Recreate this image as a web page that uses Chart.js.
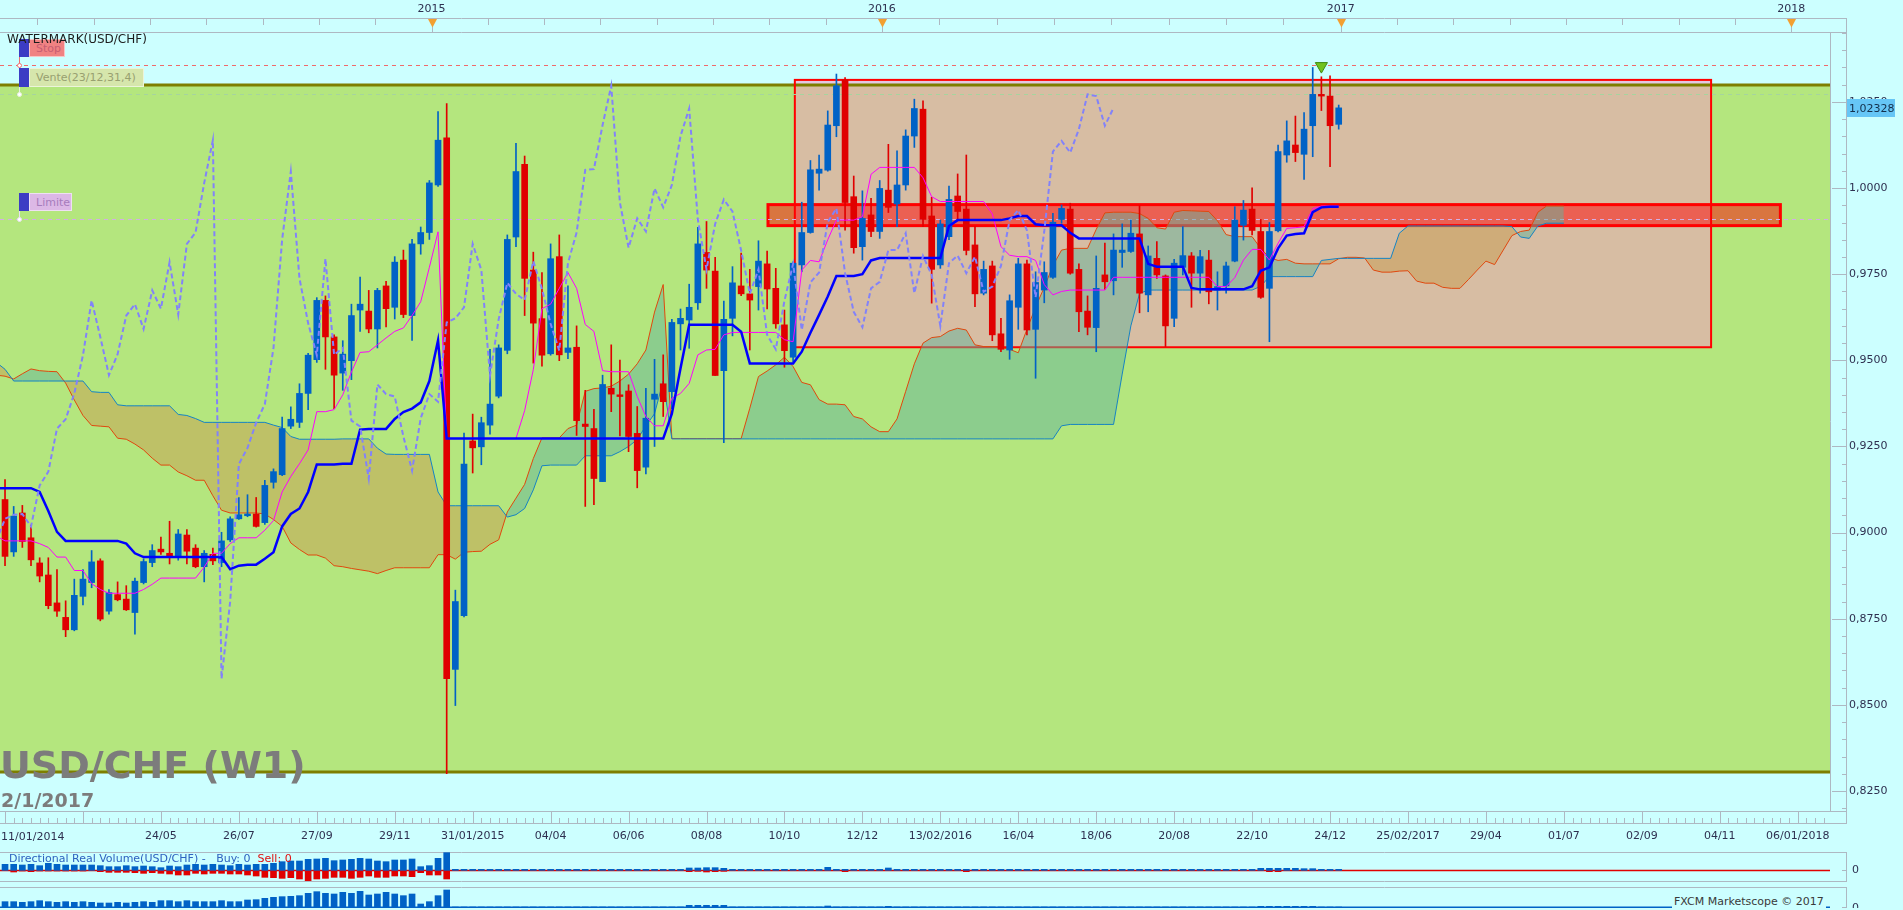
<!DOCTYPE html>
<html lang="fr">
<head>
<meta charset="utf-8">
<title>USD/CHF (W1)</title>
<script src="https://cdn.jsdelivr.net/npm/chart.js@4.4.1/dist/chart.umd.min.js"></script>
<style>
  html, body { margin: 0; padding: 0; background: #ccffff; overflow: hidden; }
  #page { position: relative; width: 1903px; height: 910px; font-family: 'DejaVu Sans', sans-serif; }
  canvas { position: absolute; left: 0; }
  .t { position: absolute; white-space: pre; font-size: 11px; line-height: 13px; }
  .sq { position: absolute; width: 10px; background: #3c3cc4; }
  .tag { position: absolute; padding-left: 6px; font-size: 11px; line-height: 18px; box-sizing: border-box; border: 1px solid rgba(255,255,255,.55); }
  .stem { position: absolute; width: 1px; }
  .dot { position: absolute; width: 5px; height: 5px; border-radius: 50%; box-sizing: border-box; border: 1px solid; background: #fff; }
</style>
</head>
<body>
<div id="page">
  <canvas id="main" width="1903" height="850" style="top:0"></canvas>
  <canvas id="vol1" width="1903" height="30" style="top:852px"></canvas>
  <canvas id="vol2" width="1903" height="21" style="top:887px"></canvas>

  <div class="stem" style="left:19px;top:57px;height:8px;background:#f07070"></div>
  <div class="dot" style="left:17px;top:63px;border-color:#f07070"></div>
  <div class="stem" style="left:19px;top:87px;height:7px;background:#e8f0e0"></div>
  <div class="dot" style="left:17px;top:92px;border-color:#e8f0e0"></div>
  <div class="stem" style="left:19px;top:211px;height:8px;background:#e8e0f0"></div>
  <div class="dot" style="left:17px;top:217px;border-color:#e8e0f0"></div>

  <div class="sq" style="left:19px;top:39px;height:18px"></div>
  <div class="tag" style="left:29px;top:39px;width:36px;height:18px;background:#f08282;color:#c85e72">Stop</div>
  <div class="sq" style="left:19px;top:68px;height:19px"></div>
  <div class="tag" style="left:29px;top:68px;width:115px;height:19px;background:#d6e6ac;color:#98a070">Vente(23/12,31,4)</div>
  <div class="sq" style="left:19px;top:193px;height:18px"></div>
  <div class="tag" style="left:29px;top:193px;width:43px;height:18px;background:#dcb8e6;color:#a67cbc">Limite</div>
  <div class="t" style="left:7px;top:33px;font-size:12px;color:#1c1c1c">WATERMARK(USD/CHF)</div>

  <div class="t" style="left:0;top:743px;font-size:38px;line-height:44px;font-weight:bold;color:#7c7c7c">USD/CHF (W1)</div>
  <div class="t" style="left:1px;top:789px;font-size:19px;line-height:23px;font-weight:bold;color:#7c7c7c">2/1/2017</div>

  <div class="t" style="left:9px;top:852px;color:#2e62c0">Directional Real Volume(USD/CHF) -   Buy: 0  <span style="color:#e01010">Sell: 0</span></div>
  <div class="t" style="left:1672px;top:895px;color:#3a3a3a;background:#ccffff;padding:0 2px">FXCM Marketscope © 2017</div>
</div>

<script>
// ---- weekly candles, week 0 = 11/01/2014 ----
const open = [
  .9007,.9096,.8944,.9057,.8985,.8912,.8877,.8796,.8754,.8718,
  .8815,.8855,.8918,.8772,.8820,.8807,.8768,.8855,.8913,.8952,
  .8940,.8929,.8993,.8955,.8901,.8937,.8913,.8979,.9040,.9049,
  .9054,.9029,.9146,.9168,.9309,.9320,.9404,.9502,.9674,.9568,
  .9463,.9499,.9646,.9643,.9591,.9716,.9654,.9791,.9630,.9838,
  .9871,1.0009,1.0146,.8603,.8759,.9266,.9249,.9312,.9396,.9529,
  .9858,1.0069,.9762,.9621,.9519,.9801,.9523,.9538,.9315,.9302,
  .9148,.9419,.9400,.9411,.9288,.9190,.9387,.9432,.9409,.9606,
  .9617,.9667,.9813,.9759,.9470,.9622,.9716,.9693,.9714,.9780,
  .9709,.9603,.9509,.9777,.9871,1.0043,1.0052,1.0181,1.0314,.9975,
  .9830,.9922,.9874,.9994,.9954,1.0009,1.0151,1.0229,.9919,.9777,
  .9859,.9977,.9939,.9835,.9695,.9774,.9577,.9530,.9654,.9780,
  .9590,.9704,.9741,.9909,.9939,.9764,.9643,.9595,.9748,.9731,
  .9813,.9816,.9867,.9690,.9796,.9745,.9622,.9770,.9803,.9753,
  .9791,.9704,.9716,.9788,.9892,.9939,.9874,.9709,.9876,1.0096,
  1.0125,1.0098,1.0181,1.0272,1.0267,1.0185
];
const high = [
  .9120,.9154,.9076,.9079,.9022,.8927,.8927,.8893,.8802,.8865,
  .8893,.8948,.8924,.8835,.8857,.8846,.8868,.8924,.8965,.8987,
  .9033,.9009,.9009,.8965,.8948,.8955,.9001,.9046,.9102,.9110,
  .9102,.9152,.9185,.9335,.9365,.9432,.9520,.9682,.9687,.9574,
  .9557,.9663,.9742,.9703,.9709,.9729,.9801,.9820,.9851,.9887,
  1.0022,1.0222,1.0245,.8833,.9289,.9344,.9335,.9532,.9545,.9864,
  1.0130,1.0093,.9814,.9755,.9838,.9864,.9716,.9600,.9413,.9358,
  .9457,.9545,.9501,.9429,.9366,.9419,.9503,.9516,.9619,.9649,
  .9721,.9886,.9903,.9799,.9672,.9772,.9811,.9764,.9847,.9817,
  .9767,.9646,.9786,.9959,1.0080,1.0096,1.0224,1.0331,1.0321,1.0035,
  .9992,.9970,1.0022,1.0127,1.0108,1.0169,1.0258,1.0253,.9973,.9907,
  1.0006,1.0041,1.0096,.9888,.9788,.9788,.9622,.9690,.9796,.9791,
  .9757,.9786,.9927,.9951,.9956,.9780,.9687,.9803,.9840,.9867,
  .9896,.9907,.9949,.9832,.9845,.9748,.9793,.9888,.9813,.9819,
  .9819,.9757,.9785,.9946,.9964,1.0001,.9909,.9900,1.0125,1.0195,
  1.0209,1.0219,1.0350,1.0323,1.0326,1.0241
];
const low = [
  .8990,.8904,.8931,.8957,.8904,.8857,.8779,.8757,.8698,.8715,
  .8790,.8840,.8744,.8763,.8802,.8774,.8705,.8851,.8901,.8937,
  .8909,.8920,.8909,.8898,.8857,.8907,.8901,.8974,.9038,.9046,
  .9016,.9024,.9129,.9165,.9302,.9305,.9357,.9494,.9474,.9360,
  .9413,.9444,.9584,.9580,.9536,.9597,.9620,.9624,.9558,.9808,
  .9851,1.0005,.8300,.8498,.8755,.9173,.9197,.9286,.9391,.9519,
  .9830,.9630,.9492,.9483,.9515,.9499,.9505,.9282,.9076,.9081,
  .9148,.9351,.9281,.9235,.9130,.9170,.9250,.9337,.9360,.9530,
  .9535,.9648,.9709,.9456,.9261,.9571,.9688,.9530,.9646,.9649,
  .9593,.9480,.9496,.9757,.9869,.9994,1.0049,1.0149,.9878,.9811,
  .9791,.9859,.9854,.9929,.9888,.9994,1.0118,.9888,.9666,.9767,
  .9850,.9905,.9806,.9656,.9690,.9557,.9525,.9503,.9590,.9574,
  .9448,.9667,.9738,.9898,.9750,.9583,.9574,.9525,.9706,.9690,
  .9770,.9813,.9638,.9641,.9738,.9540,.9598,.9748,.9654,.9695,
  .9664,.9646,.9695,.9786,.9849,.9864,.9680,.9554,.9873,1.0075,
  1.0077,1.0025,1.0091,1.0225,1.0062,1.0171
];
const close = [
  .9096,.8931,.9048,.8974,.8921,.8874,.8788,.8772,.8718,.8818,
  .8865,.8915,.8749,.8826,.8805,.8776,.8859,.8916,.8948,.8944,
  .8929,.8996,.8946,.8901,.8940,.8918,.8976,.9040,.9052,.9054,
  .9018,.9137,.9177,.9302,.9329,.9404,.9515,.9674,.9568,.9457,
  .9518,.9630,.9663,.9591,.9703,.9650,.9785,.9633,.9838,.9871,
  1.0015,1.0139,.8576,.8800,.9199,.9246,.9319,.9373,.9536,.9851,
  1.0048,.9738,.9608,.9515,.9795,.9516,.9536,.9325,.9308,.9157,
  .9430,.9402,.9395,.9279,.9180,.9332,.9402,.9380,.9610,.9622,
  .9654,.9838,.9762,.9456,.9619,.9725,.9693,.9675,.9788,.9707,
  .9606,.9528,.9782,.9871,1.0053,1.0055,1.0183,1.0297,.9958,.9827,
  .9912,.9874,.9999,.9944,1.0009,1.0151,1.0231,.9909,.9764,.9896,
  .9967,.9932,.9819,.9693,.9764,.9574,.9532,.9673,.9780,.9588,
  .9726,.9755,.9901,.9941,.9753,.9641,.9596,.9709,.9728,.9820,
  .9820,.9869,.9695,.9803,.9748,.9600,.9782,.9804,.9753,.9801,
  .9699,.9714,.9774,.9907,.9936,.9877,.9683,.9874,1.0106,1.0137,
  1.0103,1.0171,1.0272,1.0267,1.0181,1.02328
];

// ---- Ichimoku lines ----
const tenkan = [
  .8990,.8976,.8976,.8976,.8976,.8968,.8957,.8929,.8929,.8890,
  .8890,.8852,.8835,.8824,.8824,.8824,.8824,.8835,.8850,.8868,
  .8868,.8868,.8868,.8868,.8900,.8940,.8940,.8968,.8985,.8985,
  .8985,.9007,.9035,.9118,.9163,.9200,.9240,.9351,.9351,.9357,
  .9400,.9466,.9523,.9525,.9545,.9565,.9584,.9594,.9630,.9670,
  .9770,.9873,.9273,.9273,.9273,.9273,.9273,.9273,.9273,.9273,
  .9273,.9354,.9473,.9650,.9663,.9709,.9755,.9709,.9604,.9584,
  .9470,.9467,.9467,.9467,.9395,.9337,.9310,.9310,.9390,.9404,
  .9433,.9516,.9530,.9532,.9574,.9581,.9581,.9581,.9581,.9581,
  .9581,.9560,.9554,.9762,.9790,.9786,.9850,.9907,.9907,.9907,
  .9917,1.0040,1.0060,1.0060,1.0060,1.0060,1.0060,1.0030,.9975,.9961,
  .9961,.9961,.9961,.9961,.9961,.9925,.9830,.9805,.9801,.9801,
  .9790,.9720,.9690,.9700,.9704,.9704,.9704,.9704,.9704,.9741,
  .9741,.9741,.9741,.9741,.9741,.9741,.9741,.9741,.9741,.9741,
  .9741,.9714,.9714,.9740,.9791,.9822,.9822,.9791,.9840,.9883,
  .9885,.9888,.9940,.9948,.9948,.9948
];
const kijun = [
  .9129,.9129,.9129,.9129,.9129,.9118,.9063,.9002,.8976,.8976,
  .8976,.8976,.8976,.8976,.8976,.8968,.8940,.8929,.8929,.8929,
  .8929,.8929,.8929,.8929,.8929,.8929,.8929,.8894,.8904,.8907,
  .8907,.8924,.8943,.9018,.9054,.9070,.9118,.9198,.9198,.9198,
  .9200,.9200,.9299,.9301,.9301,.9301,.9330,.9350,.9360,.9378,
  .9440,.9558,.9273,.9273,.9273,.9273,.9273,.9273,.9273,.9273,
  .9273,.9273,.9273,.9273,.9273,.9273,.9273,.9273,.9273,.9273,
  .9273,.9273,.9273,.9273,.9273,.9273,.9273,.9273,.9345,.9477,
  .9603,.9603,.9603,.9603,.9603,.9603,.9583,.9491,.9491,.9491,
  .9491,.9491,.9491,.9525,.9580,.9632,.9685,.9745,.9745,.9745,
  .9750,.9790,.9797,.9797,.9797,.9797,.9797,.9797,.9797,.9797,
  .9890,.9907,.9907,.9907,.9907,.9907,.9907,.9912,.9919,.9919,
  .9895,.9892,.9892,.9892,.9870,.9854,.9854,.9854,.9854,.9854,
  .9854,.9854,.9854,.9780,.9772,.9772,.9772,.9772,.9710,.9706,
  .9706,.9706,.9706,.9706,.9706,.9715,.9760,.9770,.9825,.9862,
  .9867,.9869,.9930,.9944,.9946,.9946
];
// senkou spans run 26 weeks past the last candle
const spanA = [
  .9457,.9454,.9446,.9461,.9475,.9470,.9468,.9467,.9434,.9385,
  .9340,.9311,.9309,.9307,.9274,.9271,.9257,.9240,.9216,.9196,
  .9196,.9176,.9165,.9152,.9152,.9107,.9065,.9057,.9057,.9057,
  .9057,.9054,.9038,.9018,.8970,.8951,.8935,.8935,.8926,.8904,
  .8901,.8896,.8892,.8888,.8881,.8890,.8898,.8898,.8898,.8898,
  .8898,.8936,.8936,.8923,.8943,.8945,.8946,.8966,.8979,.9060,
  .9100,.9140,.9215,.9275,.9275,.9275,.9302,.9312,.9410,.9418,
  .9420,.9425,.9440,.9460,.9490,.9530,.9640,.9720,.9273,.9273,
  .9273,.9273,.9273,.9273,.9273,.9273,.9273,.9361,.9453,.9469,
  .9487,.9509,.9482,.9436,.9429,.9386,.9373,.9373,.9371,.9337,
  .9330,.9307,.9293,.9293,.9330,.9410,.9490,.9550,.9566,.9569,
  .9585,.9593,.9588,.9545,.9540,.9540,.9537,.9532,.9522,.9590,
  .9655,.9712,.9775,.9820,.9825,.9825,.9825,.9880,.9928,.9930,
  .9930,.9930,.9926,.9912,.9885,.9881,.9930,.9935,.9934,.9933,
  .9932,.9905,.9865,.9859,.9859,.9859,.9825,.9798,.9790,.9793,
  .9782,.9780,.9780,.9780,.9780,.9795,.9799,.9799,.9797,.9762,
  .9756,.9756,.9759,.9760,.9730,.9724,.9724,.9712,.9709,.9709,
  .9735,.9762,.9788,.9778,.9820,.9862,.9874,.9878,.9930,.9948,
  .9948,.9948
];
const spanB = [
  .9494,.9474,.9440,.9440,.9440,.9440,.9440,.9440,.9440,.9440,
  .9440,.9409,.9407,.9407,.9371,.9368,.9368,.9368,.9368,.9368,
  .9368,.9343,.9340,.9331,.9320,.9320,.9320,.9320,.9320,.9320,
  .9320,.9320,.9312,.9305,.9279,.9271,.9271,.9271,.9271,.9271,
  .9272,.9272,.9272,.9272,.9245,.9228,.9227,.9227,.9227,.9227,
  .9227,.9118,.9078,.9078,.9078,.9078,.9078,.9078,.9078,.9045,
  .9052,.9070,.9124,.9194,.9196,.9196,.9196,.9196,.9223,.9223,
  .9223,.9223,.9235,.9250,.9270,.9310,.9345,.9440,.9272,.9272,
  .9272,.9272,.9272,.9272,.9272,.9272,.9272,.9272,.9272,.9272,
  .9272,.9272,.9272,.9272,.9272,.9272,.9272,.9272,.9272,.9272,
  .9272,.9272,.9272,.9272,.9272,.9272,.9272,.9272,.9272,.9272,
  .9272,.9272,.9272,.9272,.9272,.9272,.9272,.9272,.9272,.9272,
  .9272,.9272,.9272,.9310,.9314,.9314,.9314,.9314,.9314,.9314,
  .9460,.9600,.9694,.9704,.9704,.9704,.9704,.9704,.9704,.9704,
  .9704,.9704,.9704,.9704,.9704,.9704,.9715,.9743,.9743,.9743,
  .9743,.9743,.9743,.9790,.9793,.9796,.9796,.9796,.9796,.9796,
  .9796,.9796,.9869,.9890,.9890,.9890,.9890,.9890,.9890,.9890,
  .9890,.9890,.9890,.9890,.9890,.9888,.9858,.9854,.9890,.9898,
  .9898,.9898
];
// chikou span = the closes plotted 26 weeks back
const CHIKOU_SHIFT = 26;

// ---- volume panels ----
const buyVol = [
  18,18,18,16,18,14,21,18,16,16, 16,16,14,11,11,14,11,13,11,8,
  13,11,16,18,16,18,16,14,18,16, 18,18,21,26,28,28,33,34,36,29,
  31,33,36,34,28,26,31,31,34,11, 14,36,53,3,3,3,3,3,3,3,
  3,3,3,3,3,3,3,3,3,3, 3,3,3,3,3,3,3,3,3,3,
  7,7,8,8,6,3,3,3,3,3, 3,3,3,3,3,3,9,3,3,3,
  3,3,3,7,3,3,3,3,3,3, 3,3,3,3,3,3,3,3,3,3,
  3,3,3,3,3,3,3,3,3,3, 3,3,3,3,3,3,3,3,3,3,
  3,3,3,3,3,3,6,6,6,6, 6,5,5,3,3,3
];
const sellVol = [
  1,1,5,2,4,2,2,2,2,2, 2,1,4,6,6,6,7,9,7,9,
  11,14,14,9,11,9,9,11,11,14, 17,21,22,24,22,26,31,26,24,21,
  21,24,21,17,21,21,17,17,19,7, 14,14,26,0,0,0,0,0,0,0,
  0,0,0,0,0,0,0,0,0,0, 0,0,0,0,0,0,0,0,0,0,
  4,3,5,4,3,0,0,0,0,0, 0,0,0,0,0,0,0,0,4,0,
  0,0,0,0,0,0,0,0,0,0, 0,0,4,0,0,0,0,0,0,0,
  0,0,0,0,0,0,0,0,0,0, 0,0,0,0,0,0,0,0,0,0,
  0,0,0,0,0,0,0,4,4,0, 0,0,0,0,0,0
];
const totalVol = [
  19,19,19,17,19,22,19,17,19,17, 19,17,15,15,17,15,17,19,17,22,
  22,19,22,19,19,19,22,19,19,24, 25,29,32,34,35,37,44,49,44,42,
  47,44,50,39,42,47,42,37,42,12, 19,37,54,3,3,3,3,3,3,3,
  3,3,3,3,3,3,3,3,3,3, 3,3,3,3,3,3,3,3,3,3,
  8,8,8,8,8,3,3,3,3,3, 3,3,3,3,3,3,6,3,3,3,
  3,3,3,5,3,3,3,3,3,3, 3,3,3,3,3,3,3,3,3,3,
  3,3,3,3,3,3,3,3,3,3, 3,3,3,3,3,3,3,3,3,3,
  3,3,3,3,3,3,5,5,5,5, 5,5,5,3,3,3
];

// ---- axes ----
const firstDateLabel = '11/01/2014';
const dateTicks = [19,28,37,46,55,64,73,82,91,100,109,118,127,136,145,154,163,172,181,190,199,208];
const dateLabels = ['24/05','26/07','27/09','29/11','31/01/2015','04/04','06/06','08/08','10/10','12/12',
  '13/02/2016','16/04','18/06','20/08','22/10','24/12','25/02/2017','29/04','01/07','02/09','04/11','06/01/2018'];
const yearStarts = [-1.75, 50.25, 102.25, 155.25, 207.25, 259.25];
const yearTicks = [50.25, 102.25, 155.25, 207.25];
const yearLabels = ['2015', '2016', '2017', '2018'];
const priceTicks = [0.825, 0.850, 0.875, 0.900, 0.925, 0.950, 0.975, 1.000, 1.025];

// ---- drawing objects on the chart ----
const greenZone = [0.8305, 1.0299];
const boxes = [
  { from: 92.2, to: 198.0, top: 1.0314, bottom: 0.9538, fill: 'rgba(250,147,199,0.5)', width: 2 },
  { from: 89.1, to: 206.0, top: 0.9952, bottom: 0.9891, fill: 'rgba(255,0,0,0.49)', width: 3 }
];
const levels = [
  { value: 1.0357, color: '#f06a6a' },   // Stop
  { value: 1.0272, color: '#a6d49e' },   // Vente
  { value: 0.9910, color: '#d4aee4' }    // Limite
];
const signal = [{ x: 153, y: 1.0354 }];

const X_MIN = 0.42, X_MAX = 211.73;
const AXIS_X = 1846;
const GREY = '#aeb8c2';
const BLUE = '#0062c6', RED = '#e00000';

Chart.defaults.font.family = "'DejaVu Sans', sans-serif";
Chart.defaults.font.size = 11;
Chart.defaults.color = '#2e3050';

const weeks = close.map((_, i) => i);
const candleColor = weeks.map(i => close[i] >= open[i] ? BLUE : RED);
const pts = arr => arr.map((v, i) => ({ x: i, y: v }));
const chikou = close.slice(CHIKOU_SHIFT).map((v, i) => ({ x: i, y: v }));
const fixX = h => s => { s.height = h; s.paddingLeft = 0; s.paddingRight = 0; };
const fixY = s => { s.width = 1903 - 1830; s.paddingTop = 0; s.paddingBottom = 0; };
const fmtPrice = (v, d) => v.toFixed(d).replace('.', ',');

function line(ctx, x0, y0, x1, y1) {
  ctx.beginPath(); ctx.moveTo(x0, y0); ctx.lineTo(x1, y1); ctx.stroke();
}

const mainDecor = {
  id: 'mainDecor',
  beforeDatasetsDraw(chart) {
    const { ctx, chartArea: a } = chart;
    const { x, y } = chart.scales;
    ctx.save();
    ctx.beginPath(); ctx.rect(a.left, a.top, a.width, a.height); ctx.clip();
    const zt = y.getPixelForValue(greenZone[1]), zb = y.getPixelForValue(greenZone[0]);
    ctx.fillStyle = '#b4e67e';
    ctx.fillRect(a.left, zt, a.width, zb - zt);
    boxes.forEach(b => {
      const x0 = x.getPixelForValue(b.from), x1 = x.getPixelForValue(b.to);
      const y0 = y.getPixelForValue(b.top), y1 = y.getPixelForValue(b.bottom);
      ctx.fillStyle = b.fill;
      ctx.fillRect(x0, y0, x1 - x0, y1 - y0);
    });
    ctx.strokeStyle = '#7e7e00'; ctx.lineWidth = 3;
    line(ctx, a.left, zt, a.right, zt);
    line(ctx, a.left, zb, a.right, zb);
    boxes.forEach(b => {
      const x0 = x.getPixelForValue(b.from), x1 = x.getPixelForValue(b.to);
      const y0 = y.getPixelForValue(b.top), y1 = y.getPixelForValue(b.bottom);
      ctx.strokeStyle = '#ff0000'; ctx.lineWidth = b.width;
      ctx.strokeRect(x0, y0, x1 - x0, y1 - y0);
    });
    ctx.lineWidth = 1; ctx.setLineDash([4, 4]);
    levels.forEach(l => {
      const p = Math.round(y.getPixelForValue(l.value)) + 0.5;
      ctx.strokeStyle = l.color;
      line(ctx, a.left, p, a.right, p);
    });
    ctx.restore();
  },
  afterDraw(chart) {
    const { ctx, chartArea: a } = chart;
    const { x, y } = chart.scales;
    const top = a.top, bot = a.bottom;
    ctx.save();
    ctx.strokeStyle = GREY; ctx.lineWidth = 1;
    // frames
    line(ctx, 0, 18.5, AXIS_X, 18.5);
    line(ctx, 0, top + 0.5, AXIS_X, top + 0.5);
    line(ctx, 0, bot + 0.5, AXIS_X, bot + 0.5);
    line(ctx, 0, bot + 12.5, AXIS_X, bot + 12.5);
    line(ctx, a.right + 0.5, top, a.right + 0.5, bot);
    line(ctx, AXIS_X + 0.5, 18, AXIS_X + 0.5, bot + 13);
    // top axis: 8 ticks per year
    for (let k = 0; k < yearStarts.length - 1; k++) {
      for (let j = 0; j < 8; j++) {
        const v = yearStarts[k] + (yearStarts[k + 1] - yearStarts[k]) * j / 8;
        if (v < x.min || v > x.max) continue;
        const px = Math.round(x.getPixelForValue(v)) + 0.5;
        line(ctx, px, 18, px, 25);
      }
    }
    // bottom axis: week ticks, major every 9 weeks
    for (let w = 0; w <= Math.floor(x.max); w++) {
      const px = Math.round(x.getPixelForValue(w)) + 0.5;
      if (px < 0) continue;
      const major = (w - 1) % 9 === 0;
      line(ctx, px, major ? bot : bot + 7, px, bot + 12);
    }
    // price axis ticks
    for (let m = 820; m <= 1045; m += 5) {
      const v = m / 1000;
      if (v < y.min || v > y.max) continue;
      const py = Math.round(y.getPixelForValue(v)) + 0.5;
      const major = (m - 825) % 25 === 0;
      line(ctx, major ? a.right + 2 : AXIS_X - 4, py, AXIS_X, py);
    }
    // year markers
    yearTicks.forEach(v => {
      const px = Math.round(x.getPixelForValue(v)) + 0.5;
      ctx.strokeStyle = GREY;
      line(ctx, px, 25, px, top);
      ctx.fillStyle = '#f2a030';
      ctx.beginPath();
      ctx.moveTo(px - 4.5, 19); ctx.lineTo(px + 4.5, 19); ctx.lineTo(px, 27.5); ctx.closePath();
      ctx.fill();
    });
    // first date label sits flush left
    ctx.fillStyle = Chart.defaults.color;
    ctx.font = "11px 'DejaVu Sans'";
    ctx.textAlign = 'left'; ctx.textBaseline = 'middle';
    ctx.fillText(firstDateLabel, a.left + 1, bot + 26);
    // last price tag
    const last = close[close.length - 1];
    const py = Math.round(y.getPixelForValue(last));
    ctx.fillStyle = '#66c6f6';
    ctx.fillRect(AXIS_X + 1, py - 9, 48, 18);
    ctx.fillStyle = '#14304c';
    ctx.fillText(fmtPrice(last, 5), AXIS_X + 3, py + 1);
    ctx.restore();
  }
};

new Chart(document.getElementById('main'), {
  type: 'bar',
  data: {
    datasets: [
      { type: 'line', label: 'Senkou A', data: pts(spanA), borderColor: '#e0480e', borderWidth: 1,
        pointRadius: 0, tension: 0,
        fill: { target: '+1', above: 'rgba(100,180,155,0.5)', below: 'rgba(200,155,80,0.5)' }, order: 12 },
      { type: 'line', label: 'Senkou B', data: pts(spanB), borderColor: '#1584c4', borderWidth: 1,
        pointRadius: 0, tension: 0, fill: false, order: 11 },
      { type: 'bar', label: 'wick', data: weeks.map(i => ({ x: i, y: [low[i], high[i]] })),
        backgroundColor: candleColor, barThickness: 1, grouped: false, order: 10 },
      { type: 'bar', label: 'body', data: weeks.map(i => ({ x: i, y: [open[i], close[i]] })),
        backgroundColor: candleColor, barThickness: 6, minBarLength: 1, grouped: false, order: 9 },
      { type: 'line', label: 'Tenkan', data: pts(tenkan), borderColor: '#ff00ff', borderWidth: 1,
        pointRadius: 0, tension: 0, order: 3 },
      { type: 'line', label: 'Kijun', data: pts(kijun), borderColor: '#0000ff', borderWidth: 2.5,
        pointRadius: 0, tension: 0, order: 2 },
      { type: 'line', label: 'Chikou', data: chikou, borderColor: '#8282fa', borderWidth: 2,
        borderDash: [5, 3], pointRadius: 0, tension: 0, order: 1 },
      { type: 'line', label: 'Signal', data: signal, showLine: false, pointStyle: 'triangle', rotation: 180,
        pointRadius: 7, backgroundColor: '#72c21e', borderColor: '#3d8a12', borderWidth: 1, order: 0 }
    ]
  },
  options: {
    responsive: false, animation: false, events: [],
    layout: { padding: 0, autoPadding: false },
    plugins: { legend: { display: false }, tooltip: { enabled: false } },
    scales: {
      x: {
        type: 'linear', position: 'bottom', min: X_MIN, max: X_MAX, offset: false,
        grid: { display: false, drawTicks: false }, border: { display: false },
        afterBuildTicks: s => { s.ticks = dateTicks.map(v => ({ value: v })); },
        afterFit: fixX(39),
        ticks: { autoSkip: false, maxRotation: 0, padding: 19,
          callback: v => dateLabels[dateTicks.indexOf(v)] }
      },
      xt: {
        type: 'linear', position: 'top', min: X_MIN, max: X_MAX, offset: false,
        grid: { display: false, drawTicks: false }, border: { display: false },
        afterBuildTicks: s => { s.ticks = yearTicks.map(v => ({ value: v })); },
        afterFit: fixX(32),
        ticks: { autoSkip: false, maxRotation: 0, padding: 16,
          callback: v => yearLabels[yearTicks.indexOf(v)] }
      },
      y: {
        type: 'linear', position: 'right', min: 0.8192, max: 1.0453,
        grid: { display: false, drawTicks: false }, border: { display: false },
        afterBuildTicks: s => { s.ticks = priceTicks.map(v => ({ value: v })); },
        afterFit: fixY,
        ticks: { padding: 19, callback: v => fmtPrice(v, 4) }
      }
    }
  },
  plugins: [mainDecor]
});

function volPanel(id, datasets, yMin, yMax, baseColor, bottomBorder) {
  const decor = {
    id: 'volDecor',
    beforeDatasetsDraw(chart) {
      const { ctx, chartArea: a } = chart;
      const p = Math.min(Math.round(chart.scales.y.getPixelForValue(0)) + 0.5, a.bottom - 0.5);
      ctx.save();
      ctx.strokeStyle = GREY; ctx.lineWidth = 1;
      line(ctx, 0, 0.5, AXIS_X, 0.5);
      if (bottomBorder) line(ctx, 0, a.bottom - 0.5, AXIS_X, a.bottom - 0.5);
      line(ctx, AXIS_X + 0.5, 0, AXIS_X + 0.5, a.bottom);
      line(ctx, AXIS_X - 4, p, AXIS_X, p);
      ctx.strokeStyle = baseColor; ctx.lineWidth = baseColor === RED ? 1.5 : 2;
      line(ctx, a.left, p, a.right, p);
      ctx.restore();
    }
  };
  new Chart(document.getElementById(id), {
    type: 'bar',
    data: { datasets },
    options: {
      responsive: false, animation: false, events: [],
      layout: { padding: 0, autoPadding: false },
      plugins: { legend: { display: false }, tooltip: { enabled: false } },
      scales: {
        x: { type: 'linear', display: false, min: X_MIN, max: X_MAX, offset: false },
        y: {
          type: 'linear', position: 'right', min: yMin, max: yMax,
          grid: { display: false, drawTicks: false }, border: { display: false },
          afterBuildTicks: s => { s.ticks = [{ value: 0 }]; },
          afterFit: fixY,
          ticks: { padding: 22, callback: () => '0' }
        }
      }
    },
    plugins: [decor]
  });
}

volPanel('vol1', [
  { label: 'Buy', data: weeks.map(i => ({ x: i, y: buyVol[i] })), backgroundColor: BLUE, barThickness: 6, grouped: false },
  { label: 'Sell', data: weeks.map(i => ({ x: i, y: -sellVol[i] })), backgroundColor: RED, barThickness: 6, grouped: false }
], -35, 55, RED, true);

volPanel('vol2', [
  { label: 'Volume', data: weeks.map(i => ({ x: i, y: totalVol[i] })), backgroundColor: BLUE, barThickness: 6, grouped: false }
], 0, 63, BLUE, false);
</script>
</body>
</html>
